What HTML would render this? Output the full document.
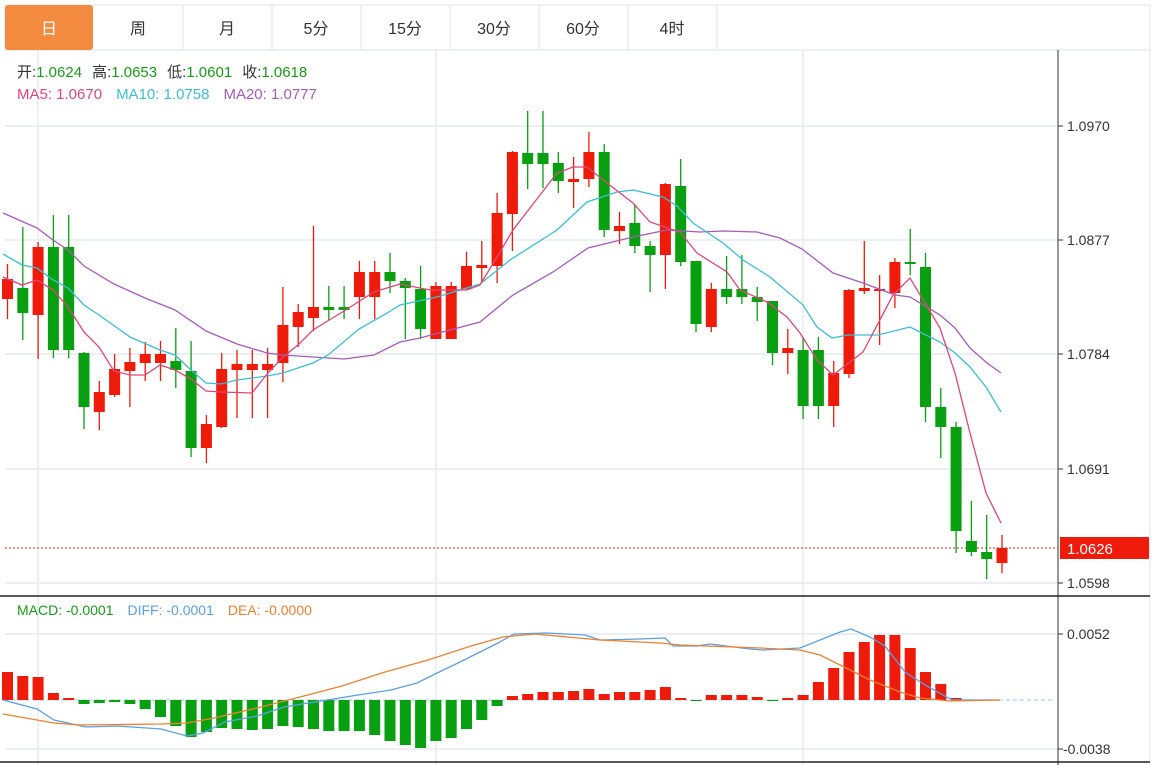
<!DOCTYPE html>
<html><head><meta charset="utf-8"><style>
html,body{margin:0;padding:0;background:#fff;width:1164px;height:765px;overflow:hidden;font-family:"Liberation Sans","Noto Sans CJK SC",sans-serif;}
svg{position:absolute;left:0;top:0}
</style></head><body>
<svg id="s" width="1164" height="765" xmlns="http://www.w3.org/2000/svg" font-family="Liberation Sans, Noto Sans CJK SC, sans-serif">
<rect x="5" y="5" width="1145" height="45" fill="#fff" stroke="#dde2e8"/>
<rect x="5" y="5" width="88" height="45" rx="3" fill="#f28b40"/>
<g stroke="#dde2e8"><line x1="183" y1="5" x2="183" y2="50"/><line x1="272" y1="5" x2="272" y2="50"/><line x1="361" y1="5" x2="361" y2="50"/><line x1="450" y1="5" x2="450" y2="50"/><line x1="539" y1="5" x2="539" y2="50"/><line x1="628" y1="5" x2="628" y2="50"/><line x1="717" y1="5" x2="717" y2="50"/><line x1="1150" y1="50" x2="1150" y2="765"/></g>
<g font-size="16" fill="#333" text-anchor="middle">
<text x="49" y="34" fill="#fff">日</text><text x="138" y="34">周</text><text x="227" y="34">月</text><text x="316" y="34">5分</text><text x="405" y="34">15分</text><text x="494" y="34">30分</text><text x="583" y="34">60分</text><text x="672" y="34">4时</text></g>
<g stroke="#e6ecf2" stroke-width="1.5">
<line x1="5" y1="126" x2="1058" y2="126"/><line x1="5" y1="240" x2="1058" y2="240"/><line x1="5" y1="354" x2="1058" y2="354"/><line x1="5" y1="469" x2="1058" y2="469"/><line x1="5" y1="583" x2="1058" y2="583"/>
<line x1="5" y1="634" x2="1058" y2="634"/><line x1="5" y1="749" x2="1058" y2="749"/>
<line x1="38" y1="50" x2="38" y2="765"/><line x1="436" y1="50" x2="436" y2="765"/><line x1="803" y1="50" x2="803" y2="765"/></g>
<line x1="1058" y1="50" x2="1058" y2="765" stroke="#333"/>
<line x1="0" y1="596" x2="1150" y2="596" stroke="#222" stroke-width="1.5"/>
<line x1="0" y1="762" x2="1150" y2="762" stroke="#222" stroke-width="1.5"/>
<g stroke="#333"><line x1="1058" y1="126" x2="1063" y2="126"/><line x1="1058" y1="240" x2="1063" y2="240"/><line x1="1058" y1="354" x2="1063" y2="354"/><line x1="1058" y1="469" x2="1063" y2="469"/><line x1="1058" y1="583" x2="1063" y2="583"/><line x1="1058" y1="634" x2="1063" y2="634"/><line x1="1058" y1="749" x2="1063" y2="749"/></g>
<g font-size="14" fill="#333"><text x="1067" y="131">1.0970</text><text x="1067" y="245">1.0877</text><text x="1067" y="359">1.0784</text><text x="1067" y="474">1.0691</text><text x="1067" y="588">1.0598</text><text x="1067" y="639">0.0052</text><text x="1063" y="754">-0.0038</text></g>
<line x1="5" y1="548" x2="1058" y2="548" stroke="#e02020" stroke-dasharray="2,2"/>
<rect x="1060" y="537" width="89" height="22" fill="#ee1a0a"/>
<text x="1067" y="554" font-size="15" fill="#fff">1.0626</text>
<line x1="5" y1="700" x2="1055" y2="700" stroke="#8fd0e8" stroke-dasharray="4,3"/>
<g id="c"></g>
<g font-size="15">
<text x="17" y="77"><tspan fill="#333">开:</tspan><tspan fill="#1a9a1a">1.0624</tspan><tspan fill="#333" dx="10">高:</tspan><tspan fill="#1a9a1a">1.0653</tspan><tspan fill="#333" dx="10">低:</tspan><tspan fill="#1a9a1a">1.0601</tspan><tspan fill="#333" dx="10">收:</tspan><tspan fill="#1a9a1a">1.0618</tspan></text>
<text x="17" y="99"><tspan fill="#e0457b">MA5: 1.0670</tspan><tspan fill="#3bbfd4" dx="14">MA10: 1.0758</tspan><tspan fill="#a65cb8" dx="14">MA20: 1.0777</tspan></text>
<text x="17" y="615" font-size="14"><tspan fill="#1a9a1a">MACD: -0.0001</tspan><tspan fill="#5aa0e6" dx="14">DIFF: -0.0001</tspan><tspan fill="#f08030" dx="14">DEA: -0.0000</tspan></text>
</g>
</svg>
<script>
var R='#ee1a0a',G='#08a010';
var c=[
['r',279,299,264,319],['g',288,313,227,340],['r',247,315,242,359],['g',247,350,215,358],['g',247,350,215,358],
['g',353,407,352,429],['r',392,412,381,430],['r',369,395,354,397],['r',362,371,348,407],['r',354,363,342,381],
['r',354,363,341,381],['g',361,370,328,388],['g',371,448,341,457],['r',424,448,415,463],['r',369,427,353,428],
['r',364,370,350,418],['r',364,370,350,418],['r',364,370,348,418],['r',325,363,287,382],['r',312,327,304,347],
['r',307,318,226,331],['g',307,310,286,320],['g',307,310,286,319],['r',272,297,261,319],['r',272,297,261,319],
['g',272,281,253,293],['g',281,288,278,339],['g',289,329,266,339],['r',286,339,282,339],['r',286,339,282,339],
['r',266,289,252,290],['r',265,268,241,283],['r',213,266,193,283],['r',152,214,151,251],['g',153,164,111,189],
['g',153,164,111,188],['g',163,181,152,193],['r',179,182,157,208],['r',152,179,132,187],['g',152,230,144,237],
['r',226,231,212,244],['g',223,246,204,253],['g',246,255,241,292],['r',184,255,183,289],['g',186,262,159,266],
['g',261,324,261,332],['r',289,327,283,332],['g',289,297,256,304],['g',289,297,255,304],['g',297,302,287,321],
['g',301,353,301,365],['r',348,353,329,374],['g',350,406,337,419],['g',350,406,337,419],['r',373,406,361,427],
['r',290,374,289,378],['r',288,291,241,294],['r',289,291,275,345],['r',262,293,258,308],['g',262,264,229,275],
['g',267,407,253,422],['g',407,427,388,458],['g',427,531,422,553],['g',541,552,501,556],['g',552,559,515,579],
['r',548,563,535,573]];
var m=[672,676,677,693,698,704,703,702,704,709,717,726,737,732,728,729,730,729,726,727,729,731,731,731,735,741,745,748,741,738,729,720,706,696,694,692,692,691,689,694,692,692,690,687,698,701,695,695,695,697,701,698,695,682,668,652,642,635,635,648,672,684,698,700,700,700];
var h='';
function X(i){return 7.5+15.3*i;}
for(var i=0;i<m.length;i++){var y=m[i],x=X(i)-5.5;if(i>=63)continue;
 h+='<rect x="'+x+'" y="'+Math.min(y,700)+'" width="11" height="'+Math.max(Math.abs(y-700),1)+'" fill="'+(y<700?R:G)+'"/>';}
for(var i=0;i<c.length;i++){var d=c[i],col=d[0]=='r'?R:G,x=X(i);
 h+='<line x1="'+x+'" y1="'+d[3]+'" x2="'+x+'" y2="'+d[4]+'" stroke="'+col+'" stroke-width="1.3"/>';
 h+='<rect x="'+(x-5.5)+'" y="'+d[1]+'" width="11" height="'+Math.max(d[2]-d[1],2)+'" fill="'+col+'"/>';}
function P(p,col,w){h+='<polyline fill="none" stroke="'+col+'" stroke-width="'+(w||1.3)+'" points="'+p+'"/>';}
P('3,213 37,228 53,240 68,250 84,266 114,284 145,298 175,310 206,331 237,344 267,353 283,355 313,357 344,359 374,355 400,342 420,338 480,322 513,295 553,272 588,248 633,237 667,230 700,232 723,231 757,232 780,238 802,249 833,273 863,283 895,295 910,297 940,315 955,328 970,348 987,363 1001,373','#a65cb8');
P('3,254 22,265 37,268 53,280 68,288 84,305 99,315 130,337 160,350 175,355 191,370 206,383 221,384 237,380 267,376 283,373 313,363 328,355 359,329 389,312 400,305 437,297 480,284 510,260 557,230 587,202 617,192 633,190 663,197 677,206 693,223 723,243 743,260 770,277 803,305 817,327 832,338 848,335 878,335 910,327 940,342 955,353 970,367 986,387 1001,412','#3bbfd4');
P('3,277 22,285 37,280 53,290 68,307 84,332 99,347 114,371 130,375 145,375 160,365 175,370 191,379 206,391 221,392 252,393 267,374 283,357 298,345 313,330 344,311 374,292 400,284 430,290 467,290 480,285 497,257 513,230 557,173 573,167 587,167 607,183 633,203 650,222 680,232 697,253 727,272 740,290 767,302 787,317 800,333 817,360 833,375 863,352 893,295 910,278 940,328 955,373 970,433 986,493 1001,523','#e0457b');
P('3,700 37,709 54,720 86,727 118,726 161,729 187,736 203,733 225,722 257,716 284,707 321,701 358,695 391,690 417,683 433,675 460,662 498,643 514,634 546,633 585,635 600,640 640,639 665,638 673,646 697,646 710,644 750,649 763,650 800,648 840,632 851,629 870,637 885,646 905,672 925,685 952,700 1000,700','#5aa0e6');
P('3,714 54,723 80,725 161,724 187,723 214,718 257,708 300,697 342,686 385,672 428,660 471,646 503,637 535,634 600,640 660,643 680,645 760,648 800,650 820,655 840,665 870,680 900,692 920,698 950,701 1000,700','#f08030');
document.getElementById('c').innerHTML=h;
</script>
</body></html>
